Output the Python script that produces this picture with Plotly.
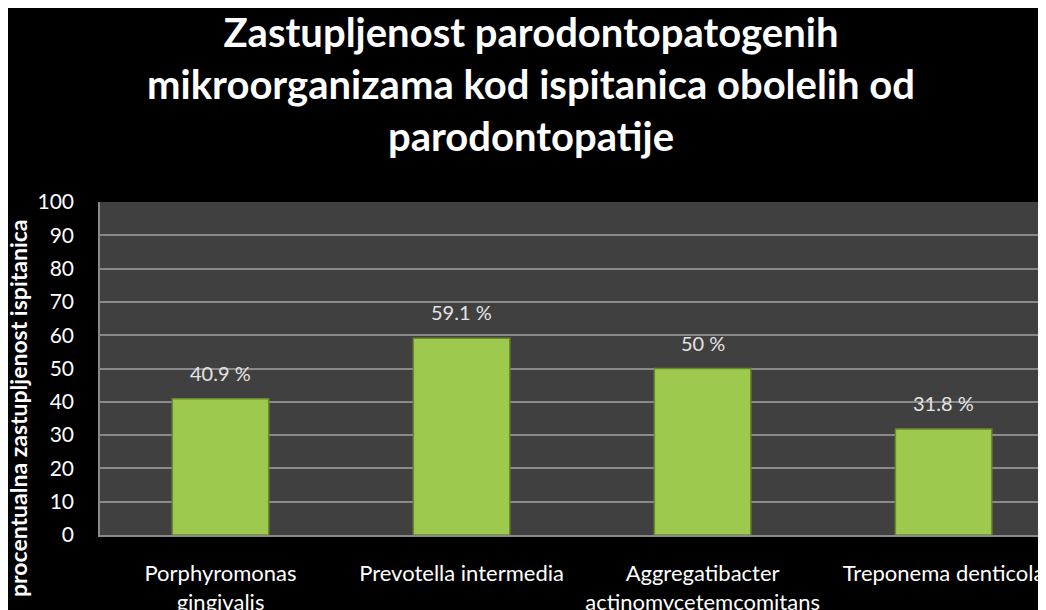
import plotly.graph_objects as go

# data
categories = ["Porphyromonas<br>gingivalis", "Prevotella intermedia",
              "Aggregatibacter<br>actinomycetemcomitans", "Treponema denticola"]
values = [40.9, 59.1, 50, 31.8]
value_labels = ["40.9 %", "59.1 %", "50 %", "31.8 %"]
y_ticks = list(range(0, 101, 10))

title_text = ("Zastupljenost parodontopatogenih<br>"
              "mikroorganizama kod ispitanica obolelih od<br>"
              "parodontopatije")
y_title = "procentualna zastupljenost ispitanica"

W, H = 1046, 610
L, R, T, B = 92, 0, 194, 83
pw, ph = W - L - R, H - T - B

trace = go.Bar(x=categories, y=values,
               marker=dict(color="#9dc94f", line=dict(color="#6b8a2c", width=1.5)),
               width=0.4, hoverinfo="skip")

fig = go.Figure(data=[trace])

# value labels above the bars
for c, v, t in zip(categories, values, value_labels):
    fig.add_annotation(x=c, y=v, text=t, showarrow=False, yshift=26,
                       font=dict(family="Lato", size=20, color="#e4e4e4"))

# rotated y-axis title, placed like the original (partly cut at the bottom)
fig.add_annotation(xref="paper", yref="paper", x=(10 - L) / pw, y=(527 - 400) / ph,
                   xanchor="center", yanchor="middle",
                   text="<b>" + y_title + "</b>", textangle=-90, showarrow=False,
                   font=dict(family="Lato", size=23, color="white"))

fig.update_layout(
    width=W, height=H,
    margin=dict(l=L, r=R, t=T, b=B),
    paper_bgcolor="black", plot_bgcolor="#404040",
    title=dict(text="<b>" + title_text + "</b>", x=0.5, xref="container", xanchor="center",
               y=1 - 39 / H, yanchor="middle", yref="container",
               font=dict(family="Lato", size=40, color="white")),
    showlegend=False,
    xaxis=dict(range=[-0.5, 3.458], showgrid=False, showline=True, linecolor="#8a8a8a",
               linewidth=1.5, ticks="", ticklabelstandoff=18, fixedrange=True,
               tickfont=dict(family="Lato", size=22, color="white")),
    yaxis=dict(range=[0, 100], tickvals=y_ticks, showgrid=True, gridcolor="#8a8a8a",
               gridwidth=1.5, showline=True, linecolor="#8a8a8a", linewidth=1.5,
               zeroline=False, ticks="", ticklabelstandoff=20,
               tickfont=dict(family="Lato", size=21, color="white")),
)

fig.write_html("out.html")
